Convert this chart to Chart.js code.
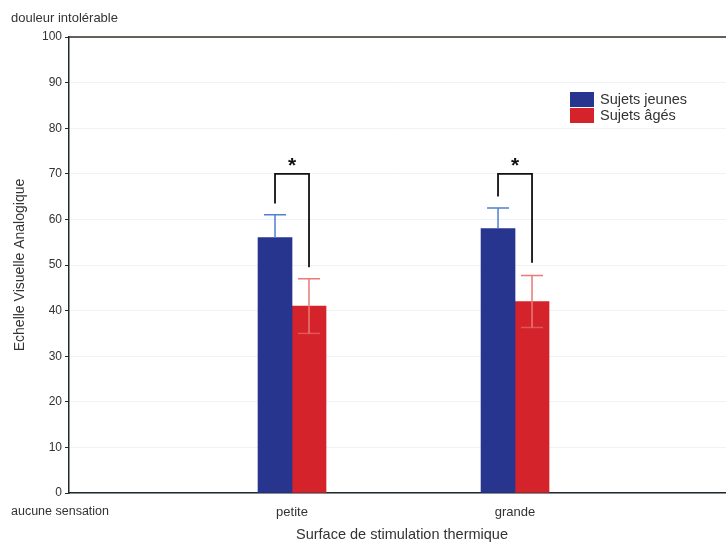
<!DOCTYPE html>
<html>
<head>
<meta charset="utf-8">
<script src="https://cdn.jsdelivr.net/npm/chart.js@4/dist/chart.umd.min.js"></script>
<style>
  html, body { margin: 0; padding: 0; background: #fff; }
  #wrap { width: 726px; height: 543px; }
</style>
</head>
<body>
<div id="wrap"><canvas id="evaChart"></canvas></div>
<script>
// values
const categories = ['petite', 'grande'];
const seriesLabels = ['Sujets jeunes', 'Sujets âgés'];
const jeunes = [56, 58];
const ages = [41, 42];
const jeunesErr = [5, 4.5];
const agesErr = [6, 5.7];
const sigTop = [70, 70];
const sigLeftEnd = [63.5, 65];
const sigRightEnd = [49.5, 50.5];
const yTicks = [0, 10, 20, 30, 40, 50, 60, 70, 80, 90, 100];

const colors = {
  blue: '#27358f',
  red: '#d4232a',
  blueErr: '#4f7fd6',
  redErr: '#e87a78',
  axis: '#1f2b2b',
  grid: '#eef3f9',
  text: '#333333'
};
const FONT = "'Liberation Sans', Arial, sans-serif";

// bars sit on a linear x axis at 1, 2 so the group spacing matches the figure
const toPoints = (vals) => vals.map((v, i) => ({ x: i + 1, y: v }));

const errorBars = {
  id: 'errorBars',
  afterDatasetsDraw(chart) {
    const ctx = chart.ctx;
    const y = chart.scales.y;
    const errs = [jeunesErr, agesErr];
    const errColors = [colors.blueErr, colors.redErr];
    ctx.save();
    chart.data.datasets.forEach((ds, di) => {
      const meta = chart.getDatasetMeta(di);
      meta.data.forEach((bar, i) => {
        const v = ds.data[i].y;
        const e = errs[di][i];
        const top = y.getPixelForValue(v + e);
        const bot = y.getPixelForValue(v - e);
        ctx.strokeStyle = errColors[di];
        ctx.lineWidth = 1.5;
        ctx.beginPath();
        ctx.moveTo(bar.x, top);
        ctx.lineTo(bar.x, di === 1 ? bot : y.getPixelForValue(v));
        ctx.moveTo(bar.x - 11, top);
        ctx.lineTo(bar.x + 11, top);
        ctx.stroke();
        if (di === 1) {
          ctx.globalAlpha = 0.6;
          ctx.beginPath();
          ctx.moveTo(bar.x - 11, bot);
          ctx.lineTo(bar.x + 11, bot);
          ctx.stroke();
          ctx.globalAlpha = 1;
        }
      });
    });

    // significance brackets
    const m0 = chart.getDatasetMeta(0);
    const m1 = chart.getDatasetMeta(1);
    categories.forEach((c, i) => {
      const xl = m0.data[i].x;
      const xr = m1.data[i].x;
      const yt = y.getPixelForValue(sigTop[i]);
      ctx.strokeStyle = '#111';
      ctx.lineWidth = 1.8;
      ctx.beginPath();
      ctx.moveTo(xl, y.getPixelForValue(sigLeftEnd[i]));
      ctx.lineTo(xl, yt);
      ctx.lineTo(xr, yt);
      ctx.lineTo(xr, y.getPixelForValue(sigRightEnd[i]));
      ctx.stroke();
      ctx.fillStyle = '#111';
      ctx.font = 'bold 21px ' + FONT;
      ctx.textAlign = 'center';
      ctx.textBaseline = 'middle';
      ctx.fillText('*', (xl + xr) / 2, yt - 8);
    });
    ctx.restore();
  }
};

const frameAndText = {
  id: 'frameAndText',
  afterDraw(chart) {
    const ctx = chart.ctx;
    const a = chart.chartArea;
    ctx.save();
    // top border of the plot box
    ctx.strokeStyle = '#3a2a22';
    ctx.lineWidth = 1.5;
    ctx.beginPath();
    ctx.moveTo(a.left, a.top);
    ctx.lineTo(chart.width, a.top);
    ctx.stroke();

    ctx.fillStyle = colors.text;
    ctx.font = '13px ' + FONT;
    ctx.textAlign = 'left';
    ctx.textBaseline = 'middle';
    ctx.fillText('douleur intolérable', 11, 18);
    ctx.font = '12.5px ' + FONT;
    ctx.fillText('aucune sensation', 11, 512);

    ctx.textAlign = 'center';
    ctx.font = '14.5px ' + FONT;
    ctx.fillText('Surface de stimulation thermique', 402, 535);

    ctx.font = '14px ' + FONT;
    ctx.translate(20, (a.top + a.bottom) / 2);
    ctx.rotate(-Math.PI / 2);
    ctx.fillText('Echelle Visuelle Analogique', 0, 0);
    ctx.restore();

    // legend
    ctx.save();
    const lx = 570, ly = 92;
    [colors.blue, colors.red].forEach((col, i) => {
      ctx.fillStyle = col;
      ctx.fillRect(lx, ly + i * 16, 24, 15);
      ctx.fillStyle = colors.text;
      ctx.font = '14.5px ' + FONT;
      ctx.textAlign = 'left';
      ctx.textBaseline = 'middle';
      ctx.fillText(seriesLabels[i], lx + 30, ly + i * 16 + 8);
    });
    ctx.restore();
  }
};

const ctx = document.getElementById('evaChart').getContext('2d');
new Chart(ctx, {
  type: 'bar',
  data: {
    datasets: [
      {
        label: seriesLabels[0],
        data: toPoints(jeunes),
        backgroundColor: colors.blue,
        barThickness: 34
      },
      {
        label: seriesLabels[1],
        data: toPoints(ages),
        backgroundColor: colors.red,
        barThickness: 34
      }
    ]
  },
  options: {
    responsive: true,
    maintainAspectRatio: false,
    animation: false,
    layout: { padding: { top: 37, right: 0, bottom: 0, left: 0 } },
    plugins: {
      legend: { display: false },
      tooltip: { enabled: false }
    },
    scales: {
      x: {
        type: 'linear',
        offset: false,
        min: 0,
        max: 2.946,
        afterBuildTicks: (scale) => {
          scale.ticks = categories.map((c, i) => ({ value: i + 1 }));
        },
        afterFit: (scale) => { scale.height = 50; },
        grid: { display: false, drawTicks: false, offset: false },
        border: { color: colors.axis, width: 1.5 },
        ticks: {
          padding: 12,
          color: colors.text,
          font: { family: FONT, size: 13 },
          callback: (v) => categories[v - 1] || ''
        }
      },
      y: {
        min: 0,
        max: 100,
        afterBuildTicks: (scale) => {
          scale.ticks = yTicks.map(v => ({ value: v }));
        },
        afterFit: (scale) => { scale.width = 69; },
        grid: {
          color: colors.grid,
          tickColor: colors.axis,
          tickLength: 4
        },
        border: { color: colors.axis, width: 1.5 },
        ticks: {
          padding: 3,
          color: colors.text,
          font: { family: FONT, size: 12 }
        }
      }
    }
  },
  plugins: [errorBars, frameAndText]
});
</script>
</body>
</html>
